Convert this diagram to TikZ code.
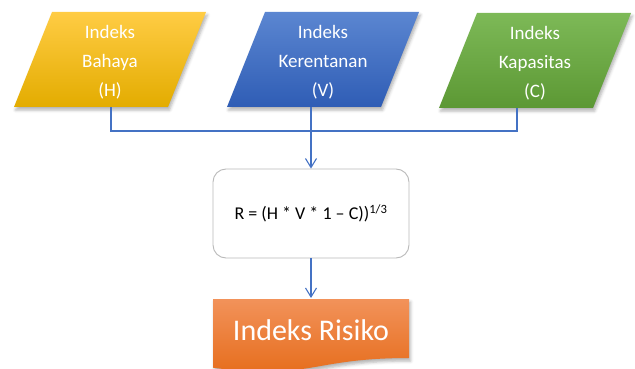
\documentclass[tikz,border=0pt]{standalone}
\usepackage{fontspec}
\setmainfont{Carlito}
\usetikzlibrary{arrows.meta,shadows.blur}

\definecolor{linkblue}{HTML}{4472C4}
\definecolor{goldtop}{HTML}{FFCC44}
\definecolor{goldmid}{HTML}{FFC000}
\definecolor{goldbot}{HTML}{E3AC00}
\definecolor{bluetop}{HTML}{5B86D1}
\definecolor{bluebot}{HTML}{2F5DB5}
\definecolor{greentop}{HTML}{7DB957}
\definecolor{greenbot}{HTML}{5C9834}
\definecolor{orangetop}{HTML}{F2925A}
\definecolor{orangebot}{HTML}{E56A17}

\tikzset{
  link/.style={draw=linkblue, line width=1.1pt},
  tip/.style={-{Straight Barb[length=9pt, width=11pt]}},
  idxtext/.style={text=white, align=center, font=\fontsize{19}{29}\selectfont},
  softshadow/.style={blur shadow={shadow xshift=1.5pt, shadow yshift=-3pt,
      shadow blur radius=3pt, shadow opacity=30}},
}

% slanted index box: centre x, top y, top colour, bottom colour
\newcommand{\slantbox}[4]{%
  \shade[top color=#3, bottom color=#4, softshadow]
    (#1-58,#2) -- (#1+96,#2) -- (#1+58,#2+95) -- (#1-96,#2+95) -- cycle;}

\begin{document}
\begin{tikzpicture}[x=1pt, y=-1pt]
    \useasboundingbox (0,0) rectangle (635,369);

    % Hazard index
    \shade[top color=goldtop, middle color=goldmid, bottom color=goldbot, softshadow]
      (52,12) -- (206,12) -- (168,107) -- (14,107) -- cycle;
    \node[idxtext] (hazard) at (110,62) {Indeks\\Bahaya\\(H)};

    % Vulnerability index
    \slantbox{323}{12}{bluetop}{bluebot}
    \node[idxtext] (vuln) at (323,62) {Indeks\\Kerentanan\\(V)};

    % Capacity index
    \slantbox{535}{13}{greentop}{greenbot}
    \node[idxtext] (capacity) at (535,63) {Indeks\\Kapasitas\\(C)};

    % Formula
    \node[draw=gray!55, line width=0.9pt, rounded corners=13pt, fill=white,
          minimum width=196pt, minimum height=89pt,
          font=\fontsize{18}{21}\selectfont] (formula) at (311,213.5)
          {R = (H * V * 1 – C))\textsuperscript{1/3}};

    % Risk index
    \shade[top color=orangetop, bottom color=orangebot, softshadow]
      (213,299) -- (409,299) -- (409,358)
      .. controls (311,358) and (311,380.5) .. (213,367.7) -- cycle;
    \node[text=white, font=\fontsize{30}{36}\selectfont] (risk) at (311,330) {Indeks Risiko};

    % Connectors
    \coordinate (hazard-foot) at (111,107);
    \coordinate (vuln-foot) at (311,107);
    \coordinate (capacity-foot) at (517,108);
    \coordinate (risk-top) at (311,298);
    \draw[link] (hazard-foot) -- ++(0,24) -| (capacity-foot);
    \draw[link, tip] (vuln-foot) -- (formula.north);
    \draw[link, tip] (formula.south) -- (risk-top);
\end{tikzpicture}
\end{document}
